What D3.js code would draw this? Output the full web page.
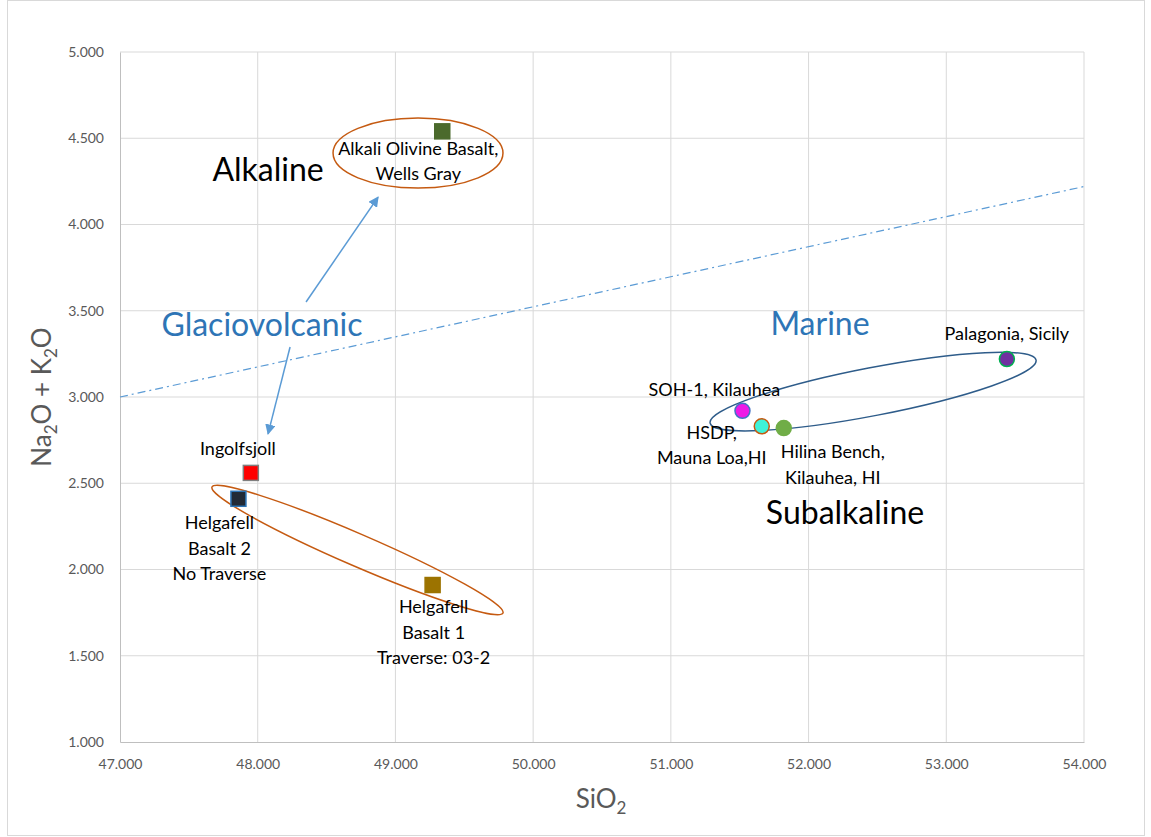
<!DOCTYPE html>
<html>
<head>
<meta charset="utf-8">
<script src="https://cdn.jsdelivr.net/npm/d3@7"></script>
<style>
  html, body { margin: 0; padding: 0; background: #fff; }
  svg { display: block; font-family: Lato, "Open Sans", sans-serif; }
</style>
</head>
<body>
<svg id="chart" width="1151" height="837"></svg>
<script>
// ---- data ----
const sampleNames = [
  "Alkali Olivine Basalt, Wells Gray",
  "Ingolfsjoll",
  "Helgafell Basalt 2 No Traverse",
  "Helgafell Basalt 1 Traverse: 03-2",
  "SOH-1, Kilauhea",
  "HSDP, Mauna Loa,HI",
  "Hilina Bench, Kilauhea, HI",
  "Palagonia, Sicily"
];
const sio2 = [49.34, 47.95, 47.86, 49.27, 51.52, 51.66, 51.82, 53.44];
const alkali = [4.54, 2.56, 2.41, 1.91, 2.92, 2.83, 2.82, 3.22];
const markerShape = ["square", "square", "square", "square", "circle", "circle", "circle", "circle"];
const markerFill = ["#4b6a2c", "#ff0000", "#222a35", "#9c7300", "#ee1ae6", "#3ff2d8", "#70ad47", "#7030a0"];
const markerStroke = ["#4b6a2c", "#7f7f7f", "#2e75b6", "#9c7300", "#4472c4", "#c55a11", "#70ad47", "#00b050"];
const labelLines = [
  ["Alkali Olivine Basalt,", "Wells Gray"],
  ["Ingolfsjoll"],
  ["Helgafell", "Basalt 2", "No Traverse"],
  ["Helgafell", "Basalt 1", "Traverse: 03-2"],
  ["SOH-1, Kilauhea"],
  ["HSDP,", "Mauna Loa,HI"],
  ["Hilina Bench,", "Kilauhea, HI"],
  ["Palagonia, Sicily"]
];
// label offsets in px relative to the marker (style)
const labelDx = [-24, -13, -19, 1, -28, -50, 49, 0];
const labelDy = [17, -24, 24, 22, -21, 6, 24, -25];

const xTicks = [47, 48, 49, 50, 51, 52, 53, 54];
const yTicks = [1, 1.5, 2, 2.5, 3, 3.5, 4, 4.5, 5];

// dividing line (alkaline / subalkaline)
const divideX = [47, 54];
const divideY = [3.0, 4.22];

// annotation ellipses: endpoints of major axis in data units
const ellipseX1 = [48.547, 47.668, 51.285];
const ellipseY1 = [4.414, 2.478, 2.849];
const ellipseX2 = [49.781, 49.781, 53.652];
const ellipseY2 = [4.414, 1.748, 3.214];
const ellipseColor = ["#c55a11", "#c55a11", "#2e5c8a"];
const ellipseMinorPx = [35, 16, 24];

// arrows
const arrowX1 = [48.351, 48.235];
const arrowY1 = [3.551, 3.290];
const arrowX2 = [48.874, 48.075];
const arrowY2 = [4.159, 2.786];

// region texts
const regionText = ["Alkaline", "Glaciovolcanic", "Marine", "Subalkaline"];
const regionX = [48.075, 48.031, 52.083, 52.265];
const regionY = [4.316, 3.417, 3.423, 2.328];
const regionColor = ["#000000", "#2e75b6", "#2e75b6", "#000000"];

// ---- drawing ----
const svg = d3.select("#chart");
const margin = { left: 120, right: 1084, top: 52, bottom: 742 };
const x = d3.scaleLinear().domain([47, 54]).range([margin.left, margin.right]);
const y = d3.scaleLinear().domain([1, 5]).range([margin.bottom, margin.top]);

// outer frame
svg.append("rect").attr("x", 7.5).attr("y", 0.5).attr("width", 1137).attr("height", 835)
  .attr("fill", "#fff").attr("stroke", "#d9d9d9");

// gridlines
svg.append("g").selectAll("line").data(xTicks.slice(1)).join("line")
  .attr("x1", d => x(d)).attr("x2", d => x(d))
  .attr("y1", y(1)).attr("y2", y(5))
  .attr("stroke", "#d9d9d9").attr("stroke-width", 1);
svg.append("g").selectAll("line").data(yTicks.slice(1)).join("line")
  .attr("x1", x(47)).attr("x2", x(54))
  .attr("y1", d => y(d)).attr("y2", d => y(d))
  .attr("stroke", "#d9d9d9").attr("stroke-width", 1);

// axes
const fmt = d3.format(".3f");
const xAxis = svg.append("g").attr("transform", `translate(0,${y(1)})`)
  .call(d3.axisBottom(x).tickValues(xTicks).tickFormat(fmt).tickSize(0).tickPadding(17));
const yAxis = svg.append("g").attr("transform", `translate(${x(47)},0)`)
  .call(d3.axisLeft(y).tickValues(yTicks).tickFormat(fmt).tickSize(0).tickPadding(16));
[xAxis, yAxis].forEach(a => {
  a.select(".domain").attr("stroke", "#bfbfbf");
  a.selectAll("text").attr("fill", "#595959").style("font-size", "14px").style("font-family", "Lato, sans-serif");
});

// axis titles
const xt = svg.append("text").attr("x", 601).attr("y", 808).attr("text-anchor", "middle")
  .attr("fill", "#595959").style("font-size", "26px");
xt.append("tspan").text("SiO");
xt.append("tspan").attr("dy", 6).style("font-size", "17px").text("2");

const yt = svg.append("text").attr("transform", "translate(51,397) rotate(-90)").attr("text-anchor", "middle")
  .attr("fill", "#595959").style("font-size", "26px");
yt.append("tspan").text("Na");
yt.append("tspan").attr("dy", 6).style("font-size", "17px").text("2");
yt.append("tspan").attr("dy", -6).text("O + K");
yt.append("tspan").attr("dy", 6).style("font-size", "17px").text("2");
yt.append("tspan").attr("dy", -6).text("O");

// dividing dash-dot line
svg.append("line")
  .attr("x1", x(divideX[0])).attr("y1", y(divideY[0]))
  .attr("x2", x(divideX[1])).attr("y2", y(divideY[1]))
  .attr("stroke", "#5b9bd5").attr("stroke-width", 1.2)
  .attr("stroke-dasharray", "8,4,2,4");

// ellipses
ellipseX1.forEach((_, i) => {
  const px1 = x(ellipseX1[i]), py1 = y(ellipseY1[i]);
  const px2 = x(ellipseX2[i]), py2 = y(ellipseY2[i]);
  const cx = (px1 + px2) / 2, cy = (py1 + py2) / 2;
  const rx = Math.hypot(px2 - px1, py2 - py1) / 2;
  const ang = Math.atan2(py2 - py1, px2 - px1) * 180 / Math.PI;
  svg.append("ellipse")
    .attr("transform", `translate(${cx},${cy}) rotate(${ang})`)
    .attr("rx", rx).attr("ry", ellipseMinorPx[i])
    .attr("fill", "none").attr("stroke", ellipseColor[i]).attr("stroke-width", 1.5);
});

// arrows
svg.append("defs").append("marker")
  .attr("id", "arrow").attr("viewBox", "0 0 10 10").attr("refX", 9).attr("refY", 5)
  .attr("markerWidth", 7).attr("markerHeight", 7).attr("orient", "auto")
  .append("path").attr("d", "M0,0 L10,5 L0,10 z").attr("fill", "#5b9bd5");
arrowX1.forEach((_, i) => {
  svg.append("line")
    .attr("x1", x(arrowX1[i])).attr("y1", y(arrowY1[i]))
    .attr("x2", x(arrowX2[i])).attr("y2", y(arrowY2[i]))
    .attr("stroke", "#5b9bd5").attr("stroke-width", 1.5)
    .attr("marker-end", "url(#arrow)");
});

// region texts
svg.append("g").selectAll("text").data(regionText).join("text")
  .attr("x", (d, i) => x(regionX[i])).attr("y", (d, i) => y(regionY[i]))
  .attr("dy", "0.35em").attr("text-anchor", "middle")
  .attr("fill", (d, i) => regionColor[i]).style("font-size", "32px")
  .text(d => d);

// markers
const pts = svg.append("g");
sampleNames.forEach((name, i) => {
  const cx = x(sio2[i]), cy = y(alkali[i]);
  if (markerShape[i] === "square") {
    pts.append("rect").attr("x", cx - 7.5).attr("y", cy - 7.5).attr("width", 15).attr("height", 15)
      .attr("fill", markerFill[i]).attr("stroke", markerStroke[i]).attr("stroke-width", 1.5);
  } else {
    pts.append("circle").attr("cx", cx).attr("cy", cy).attr("r", 7.5)
      .attr("fill", markerFill[i]).attr("stroke", markerStroke[i]).attr("stroke-width", 1.5);
  }
});

// data labels
const lab = svg.append("g");
sampleNames.forEach((name, i) => {
  const cx = x(sio2[i]) + labelDx[i], cy = y(alkali[i]) + labelDy[i];
  labelLines[i].forEach((line, j) => {
    lab.append("text").attr("x", cx).attr("y", cy + j * 25.5).attr("dy", "0.35em")
      .attr("text-anchor", "middle").attr("fill", "#000").style("font-size", "18px")
      .text(line);
  });
});
</script>
</body>
</html>
